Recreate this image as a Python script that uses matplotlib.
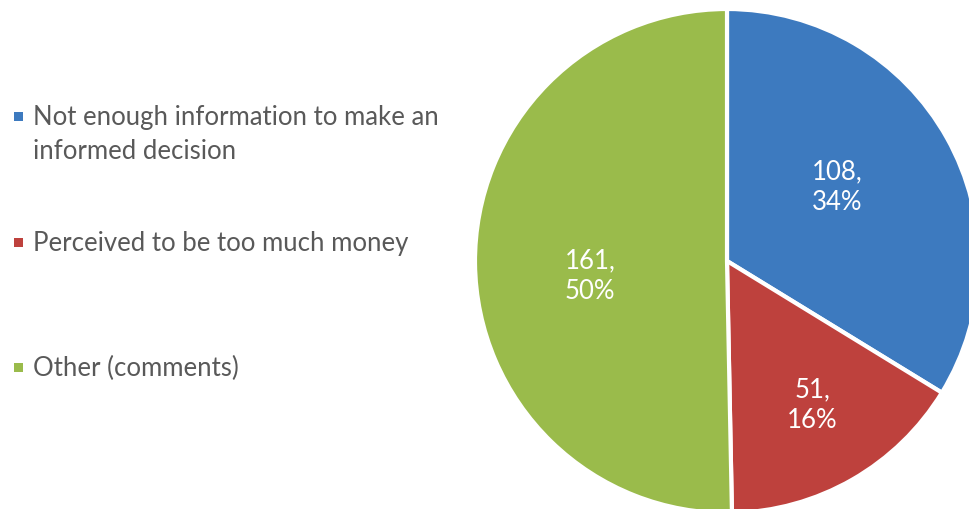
import numpy as np
import matplotlib
matplotlib.use("Agg")
import matplotlib.pyplot as plt
from matplotlib.patches import Rectangle

categories = ["Not enough information to make an\ninformed decision",
              "Perceived to be too much money",
              "Other (comments)"]
values = [108, 51, 161]
percents = [34, 16, 50]
colors = ["#3D7ABF", "#BE413D", "#9ABB4B"]

W, H = 970, 510
fig = plt.figure(figsize=(W / 100, H / 100), dpi=100)
ax = fig.add_axes([0, 0, 1, 1])
ax.set_xlim(0, W)
ax.set_ylim(0, H)
ax.set_aspect("equal")
ax.axis("off")

font = ["Lato", "DejaVu Sans"]
cx, cy, R = 727, H - 262, 252
wedges, _ = ax.pie(values, colors=colors, startangle=90, counterclock=False,
                   center=(cx, cy), radius=R,
                   wedgeprops=dict(edgecolor="white", linewidth=3))
ax.set_xlim(0, W)
ax.set_ylim(0, H)

dist = [0.53, 0.66, 0.546]
dang = [5.0, 1.0, 5.4]
for w, v, p, d, da in zip(wedges, values, percents, dist, dang):
    ang = np.deg2rad((w.theta1 + w.theta2) / 2 + da)
    x = cx + d * R * np.cos(ang)
    y = cy + d * R * np.sin(ang)
    ax.text(x, y, f"{v},\n{p}%", ha="center", va="center", color="white",
            fontsize=18.5, family=font, linespacing=1.3)

marker_y = [H - 117, H - 243, H - 368]
for lab, c, y in zip(categories, colors, marker_y):
    ax.add_patch(Rectangle((14, y - 4.5), 9, 9, color=c, lw=0))
    for i, line in enumerate(lab.split("\n")):
        ax.text(33, y - 8 - 34 * i, line, ha="left", va="baseline",
                color="#595959", fontsize=18.5, family=font)

fig.savefig("out.png", dpi=100)
